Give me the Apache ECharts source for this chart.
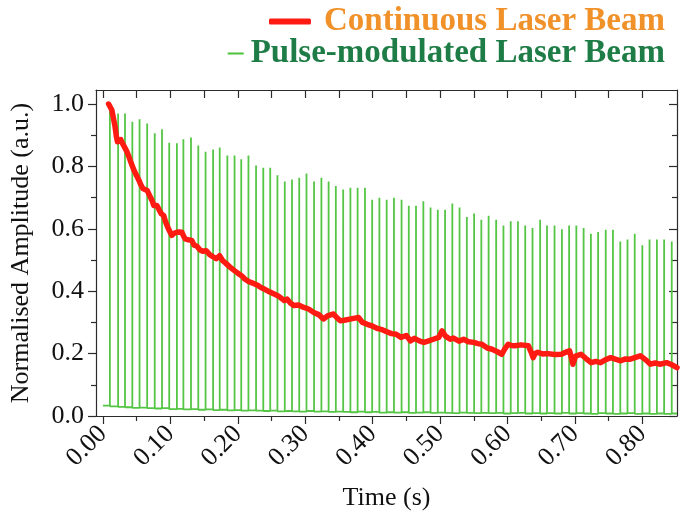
<!DOCTYPE html>
<html>
<head>
<meta charset="utf-8">
<script src="https://cdn.jsdelivr.net/npm/echarts@6/dist/echarts.min.js"></script>
<style>
  html, body { margin: 0; padding: 0; background: #fff; }
  #chart { width: 692px; height: 521px; }
</style>
</head>
<body>
<div id="chart"></div>
<script>
// pulse train: time of each pulse (s) and its peak amplitude
const pulseTimes = [
  0.0103, 0.0225, 0.0327, 0.0436, 0.0543, 0.0656, 0.0768, 0.0876, 0.0983, 0.1097,
  0.1193, 0.1306, 0.1414, 0.1522, 0.1634, 0.1732, 0.1845, 0.1952, 0.2051, 0.2158,
  0.2271, 0.2378, 0.2481, 0.2588, 0.2697, 0.2804, 0.2911, 0.3019, 0.3131, 0.3240,
  0.3347, 0.3454, 0.3563, 0.3670, 0.3777, 0.3886, 0.3993, 0.4100, 0.4208, 0.4316,
  0.4429, 0.4536, 0.4643, 0.4752, 0.4859, 0.4966, 0.5074, 0.5182, 0.5289, 0.5397,
  0.5505, 0.5612, 0.5720, 0.5832, 0.5940, 0.6048, 0.6155, 0.6263, 0.6371, 0.6484,
  0.6586, 0.6698, 0.6807, 0.6914, 0.7021, 0.7129, 0.7237, 0.7344, 0.7457, 0.7564,
  0.7673, 0.7780, 0.7887, 0.8000, 0.8107, 0.8216, 0.8323, 0.8436
];
const pulsePeaks = [
  0.980, 0.970, 0.970, 0.943, 0.951, 0.938, 0.906, 0.919, 0.876, 0.874,
  0.887, 0.893, 0.867, 0.847, 0.854, 0.861, 0.835, 0.835, 0.823, 0.835,
  0.803, 0.796, 0.796, 0.772, 0.752, 0.758, 0.764, 0.777, 0.752, 0.764,
  0.752, 0.737, 0.726, 0.732, 0.732, 0.732, 0.693, 0.700, 0.693, 0.700,
  0.693, 0.674, 0.674, 0.688, 0.668, 0.661, 0.661, 0.681, 0.668, 0.638,
  0.649, 0.629, 0.642, 0.629, 0.611, 0.624, 0.624, 0.611, 0.603, 0.629,
  0.611, 0.611, 0.599, 0.611, 0.611, 0.603, 0.584, 0.590, 0.597, 0.597,
  0.559, 0.566, 0.584, 0.547, 0.566, 0.566, 0.566, 0.559
];
// baseline level between pulses (first value at t = 0)
const pulseBase = [
  0.033, 0.031, 0.029, 0.028, 0.026, 0.027, 0.025, 0.024, 0.025, 0.022,
  0.023, 0.021, 0.022, 0.020, 0.021, 0.019, 0.020, 0.018, 0.019, 0.017,
  0.018, 0.017, 0.016, 0.017, 0.015, 0.016, 0.015, 0.014, 0.016, 0.014,
  0.015, 0.013, 0.014, 0.013, 0.012, 0.014, 0.012, 0.013, 0.011, 0.012,
  0.011, 0.012, 0.010, 0.011, 0.012, 0.010, 0.011, 0.010, 0.009, 0.011,
  0.010, 0.009, 0.010, 0.009, 0.010, 0.008, 0.009, 0.010, 0.008, 0.009,
  0.008, 0.009, 0.008, 0.010, 0.008, 0.009, 0.008, 0.007, 0.009, 0.008,
  0.007, 0.008, 0.009, 0.007, 0.008, 0.007, 0.008, 0.007, 0.008
];

// continuous beam decay
const contTime = [
  0.0084, 0.0110, 0.0132, 0.0155, 0.0180, 0.0200, 0.0215, 0.0240, 0.0264, 0.0290,
  0.0313, 0.0350, 0.0387, 0.0420, 0.0460, 0.0500, 0.0533, 0.0560, 0.0592, 0.0620,
  0.0656, 0.0680, 0.0705, 0.0730, 0.0753, 0.0780, 0.0800, 0.0835, 0.0866, 0.0900,
  0.0925, 0.0950, 0.0980, 0.1020, 0.1050, 0.1096, 0.1130, 0.1170, 0.1200, 0.1220,
  0.1260, 0.1317, 0.1350, 0.1390, 0.1440, 0.1480, 0.1530, 0.1580, 0.1620, 0.1680,
  0.1730, 0.1780, 0.1820, 0.1880, 0.1950, 0.2000, 0.2060, 0.2100, 0.2160, 0.2220,
  0.2260, 0.2300, 0.2350, 0.2400, 0.2450, 0.2540, 0.2600, 0.2690, 0.2730, 0.2780,
  0.2830, 0.2900, 0.2980, 0.3050, 0.3127, 0.3200, 0.3270, 0.3340, 0.3420, 0.3470,
  0.3520, 0.3600, 0.3700, 0.3790, 0.3850, 0.3920, 0.4000, 0.4080, 0.4150, 0.4210,
  0.4280, 0.4350, 0.4420, 0.4500, 0.4560, 0.4620, 0.4700, 0.4760, 0.4820, 0.4900,
  0.4980, 0.5030, 0.5080, 0.5150, 0.5200, 0.5280, 0.5350, 0.5420, 0.5500, 0.5560,
  0.5620, 0.5700, 0.5770, 0.5850, 0.5916, 0.5960, 0.6010, 0.6060, 0.6110, 0.6200,
  0.6310, 0.6350, 0.6380, 0.6410, 0.6450, 0.6520, 0.6600, 0.6700, 0.6800, 0.6870,
  0.6920, 0.6950, 0.6970, 0.7010, 0.7090, 0.7160, 0.7240, 0.7310, 0.7380, 0.7450,
  0.7530, 0.7600, 0.7680, 0.7750, 0.7820, 0.7900, 0.7970, 0.8050, 0.8120, 0.8190,
  0.8260, 0.8360, 0.8430, 0.8514
];
const contAmp = [
  1.000, 0.995, 0.981, 0.955, 0.927, 0.895, 0.879, 0.884, 0.886, 0.874,
  0.868, 0.850, 0.830, 0.810, 0.788, 0.770, 0.756, 0.742, 0.729, 0.725,
  0.723, 0.712, 0.707, 0.690, 0.675, 0.678, 0.675, 0.660, 0.648, 0.643,
  0.625, 0.611, 0.596, 0.579, 0.585, 0.589, 0.590, 0.589, 0.575, 0.568,
  0.565, 0.563, 0.548, 0.545, 0.532, 0.528, 0.530, 0.518, 0.512, 0.504,
  0.514, 0.497, 0.490, 0.478, 0.466, 0.458, 0.449, 0.440, 0.431, 0.426,
  0.422, 0.418, 0.411, 0.406, 0.400, 0.391, 0.385, 0.370, 0.375, 0.362,
  0.354, 0.356, 0.348, 0.343, 0.332, 0.325, 0.311, 0.322, 0.327, 0.315,
  0.305, 0.308, 0.312, 0.316, 0.300, 0.294, 0.288, 0.280, 0.276, 0.270,
  0.264, 0.262, 0.252, 0.258, 0.241, 0.249, 0.240, 0.236, 0.240, 0.246,
  0.252, 0.273, 0.256, 0.246, 0.250, 0.240, 0.246, 0.238, 0.236, 0.232,
  0.230, 0.218, 0.214, 0.206, 0.198, 0.215, 0.230, 0.226, 0.225, 0.228,
  0.225, 0.205, 0.187, 0.200, 0.204, 0.199, 0.200, 0.197, 0.198, 0.205,
  0.209, 0.185, 0.166, 0.192, 0.198, 0.185, 0.171, 0.175, 0.171, 0.180,
  0.187, 0.182, 0.177, 0.183, 0.182, 0.188, 0.193, 0.180, 0.166, 0.170,
  0.166, 0.171, 0.165, 0.155
];

const xTicks = [0, 0.1, 0.2, 0.3, 0.4, 0.5, 0.6, 0.7, 0.8];
const xMinorTicks = [0.05, 0.15, 0.25, 0.35, 0.45, 0.55, 0.65, 0.75];
const yTicks = [0, 0.2, 0.4, 0.6, 0.8, 1.0];
const yMinorTicks = [0.1, 0.3, 0.5, 0.7, 0.9];

const X_MIN = -0.0103, X_MAX = 0.8514;
const Y_MIN = 0, Y_MAX = 1.045;
const FONT = 'Liberation Serif';
const AXIS_COLOR = '#2b2b2b';

// pulse series: baseline, then a vertical spike at every pulse time
const pulseData = [[0, pulseBase[0]]];
pulseTimes.forEach((t, i) => {
  pulseData.push([t, pulseBase[i]]);
  pulseData.push([t, pulsePeaks[i]]);
  pulseData.push([t, pulseBase[i + 1]]);
});
pulseData.push([X_MAX, pulseBase[pulseBase.length - 1]]);

const contData = contTime.map((t, i) => [t, contAmp[i]]);

const chart = echarts.init(document.getElementById('chart'));

const hidden = { show: false };
function xAx(extra) {
  return Object.assign({
    type: 'value', min: X_MIN, max: X_MAX,
    axisLine: { show: false, onZero: false },
    axisLabel: hidden, splitLine: hidden
  }, extra);
}
function yAx(extra) {
  return Object.assign({
    type: 'value', min: Y_MIN, max: Y_MAX,
    axisLine: { show: false, onZero: false },
    axisLabel: hidden, splitLine: hidden
  }, extra);
}
const lineStyle = { color: AXIS_COLOR, width: 1.2 };

chart.setOption({
  animation: false,
  backgroundColor: '#fff',
  grid: { left: 90, right: 15, top: 90, bottom: 105, containLabel: false },
  legend: [
    {
      data: ['Continuous Laser Beam'],
      right: 27, top: 5, padding: 0,
      icon: 'roundRect', itemWidth: 42, itemHeight: 6,
      itemStyle: { color: '#ff1a12' },
      textStyle: {
        color: '#f0912a', fontFamily: FONT, fontWeight: 'bold', fontSize: 33,
        padding: [0, 0, 0, 8]
      }
    },
    {
      data: ['Pulse-modulated Laser Beam'],
      right: 27, top: 37, padding: 0,
      icon: 'rect', itemWidth: 16, itemHeight: 2,
      itemStyle: { color: '#4cc23a' },
      textStyle: {
        color: '#1e7d46', fontFamily: FONT, fontWeight: 'bold', fontSize: 33,
        padding: [0, 0, 0, 2]
      }
    }
  ],
  xAxis: [
    xAx({
      position: 'bottom',
      axisLine: { show: true, onZero: false, lineStyle },
      axisTick: { show: true, customValues: xTicks, length: 8, lineStyle },
      axisLabel: {
        show: true, customValues: xTicks, rotate: 45, margin: 14,
        formatter: v => v.toFixed(2),
        fontFamily: FONT, fontSize: 26, color: '#111'
      },
      name: 'Time (s)', nameLocation: 'middle', nameGap: 69,
      nameTextStyle: { fontFamily: FONT, fontSize: 26, color: '#111' }
    }),
    xAx({
      position: 'bottom',
      axisTick: { show: true, customValues: xMinorTicks, length: 5, lineStyle }
    }),
    xAx({
      position: 'top',
      axisLine: { show: true, onZero: false, lineStyle },
      axisTick: { show: true, inside: true, customValues: xTicks.concat(xMinorTicks), length: 8, lineStyle }
    })
  ],
  yAxis: [
    yAx({
      position: 'left',
      axisLine: { show: true, onZero: false, lineStyle },
      axisTick: { show: true, customValues: yTicks, length: 8, lineStyle },
      axisLabel: {
        show: true, customValues: yTicks, margin: 12,
        formatter: v => v.toFixed(1),
        fontFamily: FONT, fontSize: 26, color: '#111'
      },
      name: 'Normalised Amplitude (a.u.)', nameLocation: 'middle', nameGap: 62,
      nameRotate: 90,
      nameTextStyle: { fontFamily: FONT, fontSize: 26, color: '#111' }
    }),
    yAx({
      position: 'left',
      axisTick: { show: true, customValues: yMinorTicks, length: 5, lineStyle }
    }),
    yAx({
      position: 'right',
      axisLine: { show: true, onZero: false, lineStyle },
      axisTick: { show: true, inside: true, customValues: yTicks, length: 8, lineStyle }
    }),
    yAx({
      position: 'right',
      axisTick: { show: true, inside: true, customValues: yMinorTicks, length: 5, lineStyle }
    })
  ],
  series: [
    {
      name: 'Pulse-modulated Laser Beam',
      type: 'line',
      data: pulseData,
      showSymbol: false,
      symbol: 'none',
      sampling: false,
      color: '#4cc23a',
      lineStyle: { color: '#55c545', width: 1.8 },
      z: 2
    },
    {
      name: 'Continuous Laser Beam',
      type: 'line',
      data: contData,
      showSymbol: false,
      symbol: 'none',
      color: '#ff1a12',
      lineStyle: { color: '#ff1a12', width: 5.5, join: 'round', cap: 'round' },
      z: 3
    }
  ]
});
</script>
</body>
</html>
